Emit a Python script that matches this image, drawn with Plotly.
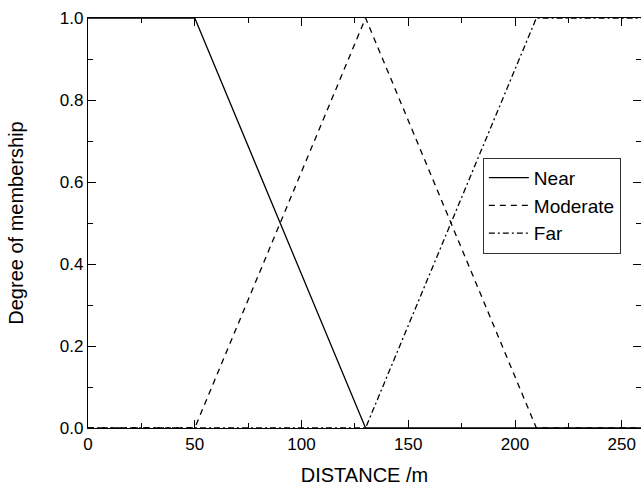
import plotly.graph_objects as go

# Membership functions for the DISTANCE fuzzy variable (breakpoints in metres)
near_x = [0, 50, 130, 260]
near_y = [1.0, 1.0, 0.0, 0.0]

moderate_x = [0, 50, 130, 210, 260]
moderate_y = [0.0, 0.0, 1.0, 0.0, 0.0]

far_x = [0, 130, 210, 260]
far_y = [0.0, 0.0, 1.0, 1.0]

x_ticks = [0, 50, 100, 150, 200, 250]
y_ticks = [0.0, 0.2, 0.4, 0.6, 0.8, 1.0]

FONT = "Liberation Sans, Arial, Helvetica, sans-serif"

fig = go.Figure()
fig.add_trace(go.Scatter(x=near_x, y=near_y, mode="lines", name="Near",
                         line=dict(color="black", width=1.3, dash="solid")))
fig.add_trace(go.Scatter(x=moderate_x, y=moderate_y, mode="lines", name="Moderate",
                         line=dict(color="black", width=1.3, dash="6px,5px")))
fig.add_trace(go.Scatter(x=far_x, y=far_y, mode="lines", name="Far",
                         line=dict(color="black", width=1.3, dash="6px,3px,2px,3px")))

axis_common = dict(
    showgrid=False, zeroline=False,
    showline=True, linecolor="black", linewidth=1.3, mirror="ticks",
    ticks="inside", ticklen=8, tickwidth=1.2, tickcolor="black",
    tickfont=dict(family=FONT, size=17, color="black"),
)

fig.update_xaxes(
    range=[0, 259], tickvals=x_ticks,
    minor=dict(ticks="inside", ticklen=5, tickwidth=1.2, tickcolor="black", dtick=25, tick0=0),
    title=dict(text="DISTANCE /m", font=dict(family=FONT, size=20, color="black"), standoff=15),
    **axis_common,
)
fig.update_yaxes(
    range=[0, 1.0], tickvals=y_ticks, tickformat=".1f",
    minor=dict(ticks="inside", ticklen=5, tickwidth=1.2, tickcolor="black", dtick=0.1, tick0=0),
    title=dict(text="Degree of membership", font=dict(family=FONT, size=20, color="black"), standoff=30),
    **axis_common,
)

fig.update_layout(
    width=641, height=488,
    margin=dict(l=88, r=0, t=18, b=60),
    paper_bgcolor="white", plot_bgcolor="white",
    font=dict(family=FONT, color="black"),
    legend=dict(
        x=0.714, y=0.659, xanchor="left", yanchor="top",
        bordercolor="#333333", borderwidth=1, bgcolor="white",
        font=dict(family=FONT, size=19, color="black"),
        tracegroupgap=0, itemwidth=40,
    ),
    showlegend=True,
)

fig.write_html("out.html")
